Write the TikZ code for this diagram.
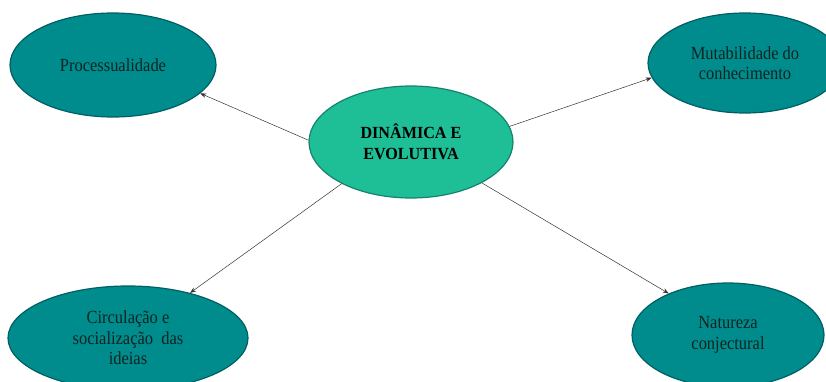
\documentclass[tikz,border=0pt]{standalone}
\usepackage{fontspec}
\setmainfont{Liberation Serif}
\newfontfamily\narrowserif[FakeStretch=0.89]{Liberation Serif}
\newfontfamily\hubserif[FakeStretch=0.95]{Liberation Serif}
\usetikzlibrary{shapes.geometric,arrows.meta}

\definecolor{tealfill}{RGB}{0,140,140}
\definecolor{tealedge}{RGB}{0,95,100}
\definecolor{mintfill}{RGB}{30,190,150}
\definecolor{mintedge}{RGB}{20,130,110}
\definecolor{darktext}{RGB}{15,35,35}

\tikzset{
  topic/.style={ellipse, fill=tealfill, draw=tealedge, line width=1.2pt,
    inner sep=0pt, align=center, text=darktext,
    font=\narrowserif\fontsize{18.5}{20.5}\selectfont},
  hub/.style={ellipse, fill=mintfill, draw=mintedge, line width=1.2pt,
    inner sep=0pt, align=center, text=black,
    font=\hubserif\fontsize{17}{21}\selectfont\bfseries},
  link/.style={draw=black!80, line width=0.5pt,
    -{Stealth[length=6pt,width=4.5pt]}}
}

\begin{document}
\begin{tikzpicture}[x=1pt,y=-1pt]
  \useasboundingbox (0,0) rectangle (826,382);

  \node[hub, minimum width=204pt, minimum height=112pt] (c) at (411,142)
    {DINÂMICA E\\EVOLUTIVA};

  \node[topic, minimum width=206pt, minimum height=104pt] (p) at (113,65)
    {Processualidade};
  \node[topic, minimum width=194pt, minimum height=100pt] (m) at (745,63)
    {Mutabilidade do\\conhecimento};
  \node[topic, minimum width=240pt, minimum height=104pt] (s) at (128,338)
    {Circulação e\\socialização\ \ das\\ideias};
  \node[topic, minimum width=192pt, minimum height=104pt] (n) at (728,335)
    {Natureza\\conjectural};

  \draw[link] (c.179) -- (p.-18);
  \draw[link] (c.9.5) -- (m.189.5);
  \draw[link] (c.211) -- (s.36.7);
  \draw[link] (c.-30) -- (n.145);
\end{tikzpicture}
\end{document}
